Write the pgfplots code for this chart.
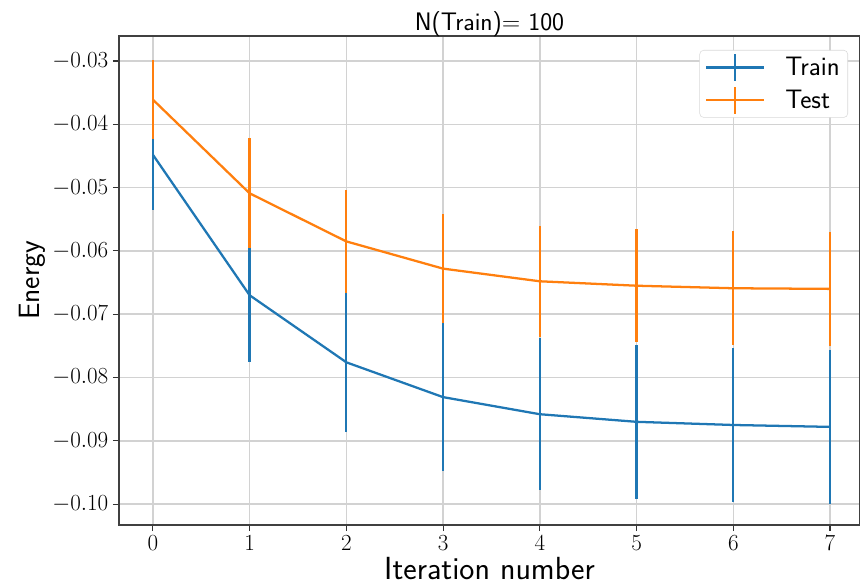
\documentclass[border=0pt]{standalone}
\usepackage{pgfplots}
\pgfplotsset{compat=1.18}
\usetikzlibrary{calc}
\definecolor{mblue}{HTML}{1F77B4}
\definecolor{morange}{HTML}{FF7F0E}
\pgfplotstableread{
x y e
0 -0.0448 0.0087
1 -0.0670 0.0105
2 -0.0776 0.0110
3 -0.0831 0.0117
4 -0.0858 0.0120
5 -0.0870 0.0122
6 -0.0875 0.0122
7 -0.0878 0.0122
}\train
\pgfplotstableread{
x y e
0 -0.0361 0.0063
1 -0.0509 0.0087
2 -0.0585 0.0081
3 -0.0628 0.0086
4 -0.0648 0.0088
5 -0.0655 0.0089
6 -0.0659 0.0090
7 -0.0660 0.0090
}\test
\begin{document}
\begin{tikzpicture}
\begin{axis}[
  scale only axis, width=555.75pt, height=366.75pt,
  xmin=-0.35, xmax=7.31, ymin=-0.1033, ymax=-0.02605,
  xtick={0,1,2,3,4,5,6,7},
  ytick={-0.10,-0.09,-0.08,-0.07,-0.06,-0.05,-0.04,-0.03},
  xtick pos=bottom, ytick pos=left,
  yticklabel style={/pgf/number format/.cd, fixed, fixed zerofill, precision=2},
  ticklabel style={font=\fontsize{17}{19}\selectfont},
  tick align=outside, major tick length=4.5pt,
  tick style={black!80, line width=0.8pt},
  axis line style={black!75, line width=1pt},
  grid=major, grid style={gray!35, line width=1.1pt},
  title={\sffamily N(Train)= 100},
  title style={font=\fontsize{19}{21}\selectfont, at={(rel axis cs:0.5,1)}, anchor=center, yshift=3pt},
  xlabel={\sffamily Iteration number}, ylabel={\sffamily Energy},
  xlabel style={font=\fontsize{24}{26}\selectfont, at={(rel axis cs:0.5,0)}, anchor=center, yshift=-33pt},
  ylabel style={font=\fontsize{22}{24}\selectfont, at={($(rel axis cs:0,0.5)+(-65pt,0pt)$)}, anchor=center},
  legend style={at={(rel axis cs:1,1)}, anchor=north east, xshift=-9pt, yshift=-10.5pt,
    font=\fontsize{20}{22}\selectfont\sffamily,
    draw=gray!30, rounded corners=3pt, inner xsep=4pt, inner ysep=2pt, row sep=3pt,
    /tikz/every odd column/.append style={column sep=13pt}},
  legend cell align=left,
  legend image code/.code={\draw[#1] (0pt,0pt) -- (43.5pt,0pt); \draw[#1] (21.75pt,-10pt) -- (21.75pt,10pt);},
  every axis plot/.append style={line width=1.7pt},
]
\addplot[mblue, mark=none, error bars/.cd, y dir=both, y explicit, error mark=none,
  error bar style={line width=1.7pt, mblue}] table[x=x, y=y, y error=e]{\train};
\addlegendentry{Train}
\addplot[morange, mark=none, error bars/.cd, y dir=both, y explicit, error mark=none,
  error bar style={line width=1.7pt, morange}] table[x=x, y=y, y error=e]{\test};
\addlegendentry{Test}
\end{axis}
\pgfresetboundingbox
\path ($(current axis.south west)+(-89.25pt,-45.75pt)$) rectangle ($(current axis.north east)+(0pt,27pt)$);
\end{tikzpicture}
\end{document}
